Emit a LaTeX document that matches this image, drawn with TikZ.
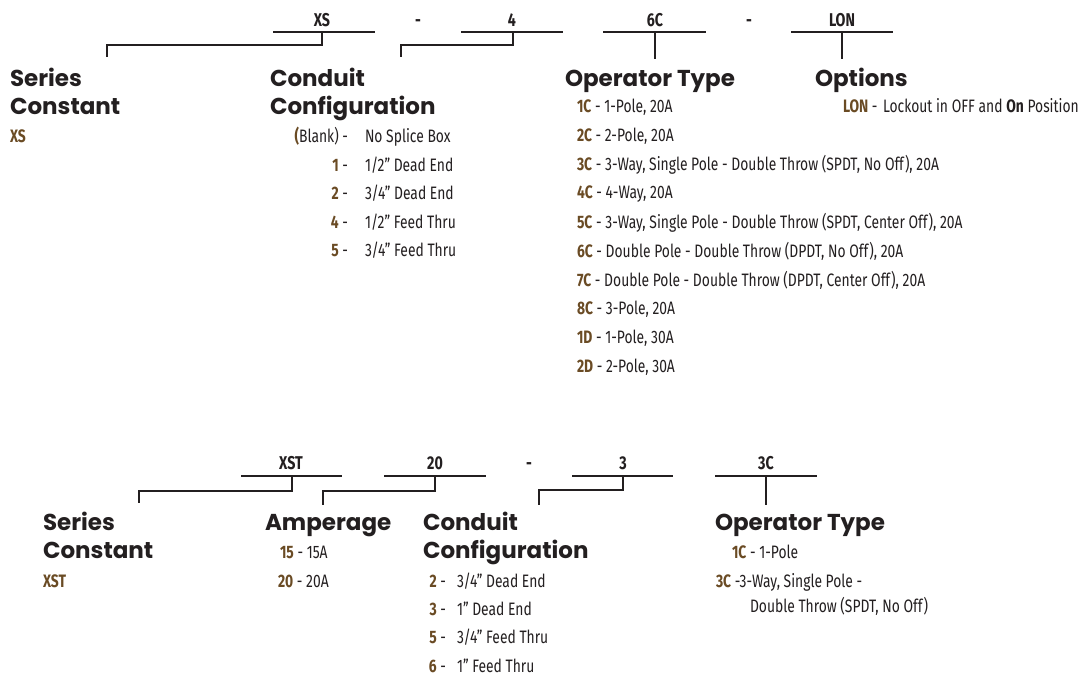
\documentclass[tikz,border=0pt]{standalone}
\usepackage{fontspec}
\newfontfamily\headfont{Poppins}
\newfontfamily\condfont[FakeStretch=0.77]{Fira Sans}
\definecolor{ink}{HTML}{231F20}
\definecolor{codebrown}{HTML}{6A4B24}
\newcommand{\cd}[1]{{\bfseries\color{codebrown}#1}}
\tikzset{
  every node/.style={inner sep=0pt, outer sep=0pt, text=ink},
  head/.style={anchor=base west, font=\headfont\bfseries\fontsize{23}{26}\selectfont},
  hdr/.style={anchor=base, font=\condfont\bfseries\fontsize{18.5}{20}\selectfont},
  item/.style={anchor=base west, font=\condfont\fontsize{18}{20}\selectfont},
  itemr/.style={anchor=base east, font=\condfont\fontsize{18}{20}\selectfont},
  rule/.style={draw=ink, line width=2.6pt},
  link/.style={draw=ink, line width=2.6pt, line join=miter}
}
\begin{document}
\begin{tikzpicture}[x=1pt,y=-1pt]
\useasboundingbox[fill=white] (0,0) rectangle (1080,679);

% ---------------- top part number ----------------
\node[hdr] (tXS) at (322,27) {XS};
\node[hdr] (tD1) at (418,27) {-};
\node[hdr] (t4) at (512,27) {4};
\node[hdr] (t6C) at (655,27) {6C};
\node[hdr] (tD2) at (749,27) {-};
\node[hdr] (tLON) at (842,27) {LON};

\coordinate (uXSa) at (273,32); \coordinate (uXSb) at (375,32); \coordinate (uXSc) at (322,32);
\coordinate (u4a) at (461,32); \coordinate (u4b) at (563,32); \coordinate (u4c) at (513,32);
\coordinate (u6a) at (603,32); \coordinate (u6b) at (706,32); \coordinate (u6c) at (655,32);
\coordinate (uLa) at (791,32); \coordinate (uLb) at (893,32); \coordinate (uLc) at (842,32);
\draw[rule] (uXSa) -- (uXSb);
\draw[rule] (u4a) -- (u4b);
\draw[rule] (u6a) -- (u6b);
\draw[rule] (uLa) -- (uLb);

\coordinate (eSC) at (107,57);
\coordinate (eCC) at (401,57);
\coordinate (eOT) at (655,59);
\coordinate (eOP) at (842,59);
\draw[link] (uXSc) -- ++(0,13) -| (eSC);
\draw[link] (u4c) -- ++(0,13) -| (eCC);
\draw[link] (u6c) -- (eOT);
\draw[link] (uLc) -- (eOP);

% headings
\node[head] (hSC1) at (10,87) {Series};
\node[head] (hSC2) at (10,115) {Constant};
\node[head] (hCC1) at (270,87) {Conduit};
\node[head] (hCC2) at (270,115) {Configuration};
\node[head] (hOT) at (565,87) {Operator Type};
\node[head] (hOP) at (815,87) {Options};

% series constant
\node[item] (sXS) at (10,143) {\cd{XS}};

% conduit configuration
\node[itemr] (c0k) at (348,143) {\cd{(}Blank) -};
\node[item]  (c0d) at (365,143) {No Splice Box};
\node[itemr] (c1k) at (348,172) {\cd{1} -};
\node[item]  (c1d) at (365,172) {1/2” Dead End};
\node[itemr] (c2k) at (348,200) {\cd{2} -};
\node[item]  (c2d) at (365,200) {3/4” Dead End};
\node[itemr] (c4k) at (348,229) {\cd{4} -};
\node[item]  (c4d) at (365,229) {1/2” Feed Thru};
\node[itemr] (c5k) at (348,257) {\cd{5} -};
\node[item]  (c5d) at (365,257) {3/4” Feed Thru};

% operator type
\node[item] (o1) at (577,113) {\cd{1C} - 1-Pole, 20A};
\node[item] (o2) at (577,142) {\cd{2C} - 2-Pole, 20A};
\node[item] (o3) at (577,171) {\cd{3C} - 3-Way, Single Pole - Double Throw (SPDT, No Off), 20A};
\node[item] (o4) at (577,199) {\cd{4C} - 4-Way, 20A};
\node[item] (o5) at (577,229) {\cd{5C} - 3-Way, Single Pole - Double Throw (SPDT, Center Off), 20A};
\node[item] (o6) at (577,258) {\cd{6C} - Double Pole - Double Throw (DPDT, No Off), 20A};
\node[item] (o7) at (577,287) {\cd{7C} - Double Pole - Double Throw (DPDT, Center Off), 20A};
\node[item] (o8) at (577,315) {\cd{8C} - 3-Pole, 20A};
\node[item] (o9) at (577,344) {\cd{1D} - 1-Pole, 30A};
\node[item] (o10) at (577,373) {\cd{2D} - 2-Pole, 30A};

% options
\node[item] (pk) at (843,113) {\cd{LON} -};
\node[item] (pd) at (883,113) {Lockout in OFF and {\bfseries On} Position};

% ---------------- bottom part number ----------------
\node[hdr] (bXST) at (291,469) {XST};
\node[hdr] (b20) at (435,469) {20};
\node[hdr] (bD) at (529,469) {-};
\node[hdr] (b3) at (623,469) {3};
\node[hdr] (b3C) at (766,469) {3C};

\coordinate (vXa) at (241,476); \coordinate (vXb) at (342,476); \coordinate (vXc) at (292,476);
\coordinate (v2a) at (384,476); \coordinate (v2b) at (486,476); \coordinate (v2c) at (435,476);
\coordinate (v3a) at (572,476); \coordinate (v3b) at (673,476); \coordinate (v3c) at (623,476);
\coordinate (v4a) at (715,476); \coordinate (v4b) at (817,476); \coordinate (v4c) at (766,476);
\draw[rule] (vXa) -- (vXb);
\draw[rule] (v2a) -- (v2b);
\draw[rule] (v3a) -- (v3b);
\draw[rule] (v4a) -- (v4b);

\coordinate (fSC) at (139,503);
\coordinate (fAM) at (323,505);
\coordinate (fCC) at (539,505);
\coordinate (fOT) at (766,505);
\draw[link] (vXc) -- ++(0,15) -| (fSC);
\draw[link] (v2c) -- ++(0,15) -| (fAM);
\draw[link] (v3c) -- ++(0,14) -| (fCC);
\draw[link] (v4c) -- (fOT);

\node[head] (gSC1) at (43,530) {Series};
\node[head] (gSC2) at (43,558) {Constant};
\node[head] (gAM) at (265,530) {Amperage};
\node[head] (gCC1) at (423,530) {Conduit};
\node[head] (gCC2) at (423,558) {Configuration};
\node[head] (gOT) at (715,530) {Operator Type};

\node[item] (sXST) at (43,587) {\cd{XST}};

\node[item] (a15) at (280,558) {\cd{15} - 15A};
\node[item] (a20) at (278,587) {\cd{20} - 20A};

\node[itemr] (k2k) at (446,587) {\cd{2} -};
\node[item]  (k2d) at (457,587) {3/4” Dead End};
\node[itemr] (k3k) at (446,615) {\cd{3} -};
\node[item]  (k3d) at (457,615) {1” Dead End};
\node[itemr] (k5k) at (446,643) {\cd{5} -};
\node[item]  (k5d) at (457,643) {3/4” Feed Thru};
\node[itemr] (k6k) at (446,672) {\cd{6} -};
\node[item]  (k6d) at (457,672) {1” Feed Thru};

\node[item] (q1) at (732,558) {\cd{1C} - 1-Pole};
\node[item] (q3) at (716,587) {\cd{3C} -3-Way, Single Pole -};
\node[item] (q3b) at (750,612) {Double Throw (SPDT, No Off)};
\end{tikzpicture}
\end{document}
